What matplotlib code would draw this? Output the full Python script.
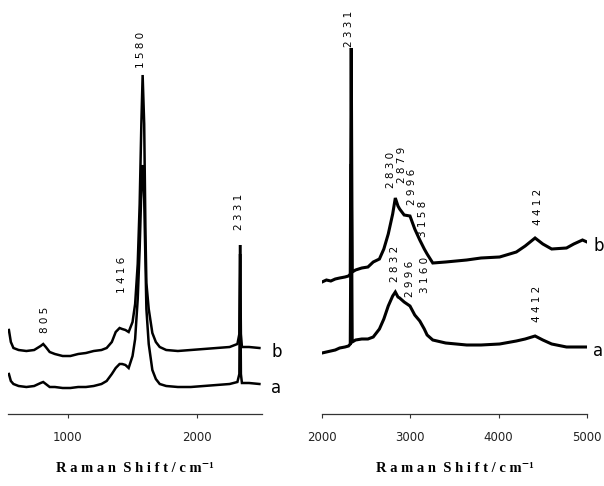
import matplotlib
matplotlib.use('Agg')
import numpy as np
import matplotlib.pyplot as plt

# ── Left panel: 500-2500 cm-1 (intensity in arbitrary units) ────────────────
left_x = [545, 560, 580, 620, 680, 740, 790, 810, 830, 860, 900, 960, 1020,
          1080, 1140, 1200, 1260, 1300, 1340, 1370, 1400, 1420, 1445, 1470,
          1500, 1520, 1540, 1555, 1568, 1578, 1590, 1600, 1607, 1625, 1653,
          1680, 1710, 1760, 1850, 1950, 2050, 2150, 2250, 2310, 2325, 2331,
          2337, 2345, 2400, 2480]
left_b = [84, 72, 66, 64, 63, 64, 68, 70, 67, 62, 60, 58, 58,
          60, 61, 63, 64, 66, 72, 82, 86, 85, 84, 82,
          92, 110, 150, 210, 290, 339, 290, 180, 131, 105, 81,
          72, 67, 64, 63, 64, 65, 66, 67, 70, 80, 169,
          80, 67, 67, 66]
left_a = [40, 33, 30, 28, 27, 28, 31, 32, 30, 27, 27, 26, 26,
          27, 27, 28, 30, 33, 40, 46, 50, 50, 49, 46,
          58, 75, 115, 165, 225, 249, 215, 150, 105, 70, 44,
          35, 30, 28, 27, 27, 28, 29, 30, 32, 40, 160,
          40, 31, 31, 30]

# ── Right panel: 2000-5000 cm-1 ─────────────────────────────────────────────
right_x = [2000, 2050, 2100, 2150, 2200, 2260, 2300, 2320, 2331, 2342, 2380,
           2450, 2520, 2580, 2650, 2700, 2750, 2800, 2830, 2860, 2879, 2930,
           2996, 3050, 3107, 3158, 3190, 3254, 3400, 3638, 3800, 4011, 4200,
           4300, 4412, 4500, 4600, 4768, 4850, 4949, 5000]
right_b = [132, 134, 133, 135, 136, 137, 138, 140, 366, 142, 144,
           146, 147, 152, 155, 165, 180, 200, 216, 208, 205, 199,
           198, 185, 174, 165, 160, 151, 152, 154, 156, 157, 162,
           168, 176, 170, 165, 166, 170, 174, 172]
right_a = [61, 62, 63, 64, 66, 67, 68, 70, 250, 72, 74,
           75, 75, 77, 85, 95, 108, 118, 122, 117, 116, 112,
           108, 99, 93, 85, 79, 74, 71, 69, 69, 70, 73,
           75, 78, 74, 70, 67, 67, 67, 67]

left_peaks = [('805', 823, 81), ('1416', 1422, 121), ('1580', 1569, 346),
              ('2331', 2323, 184)]
right_peaks = [('2331', 2305, 367), ('2830', 2780, 226), ('2879', 2904, 231),
               ('2996', 3017, 209), ('3158', 3141, 177), ('4412', 4441, 189),
               ('2832', 2825, 132), ('2996', 2994, 117), ('3160', 3164, 121),
               ('4412', 4429, 92)]

W, H = 604, 486
fig = plt.figure(figsize=(W / 100, H / 100), dpi=100)
ax1 = fig.add_axes([8 / W, 72 / H, 254 / W, 414 / H])
ax2 = fig.add_axes([322 / W, 72 / H, 265 / W, 414 / H])

label_font = ['Liberation Serif', 'DejaVu Serif']


def style(ax, xlim, ticks):
    ax.set_xlim(*xlim)
    ax.set_ylim(0, 414)
    for s in ['left', 'right', 'top']:
        ax.spines[s].set_visible(False)
    ax.spines['bottom'].set_linewidth(0.9)
    ax.spines['bottom'].set_color('#333333')
    ax.set_yticks([])
    ax.set_xticks(ticks)
    ax.set_xticklabels([str(t) for t in ticks], family='DejaVu Sans',
                       fontsize=8.5, color='#222222')
    ax.tick_params(axis='x', length=3, width=0.8, pad=9, color='#333333')
    ax.set_xlabel('R a m a n  S h i f t / c m\u207b\u00b9', family=label_font,
                  fontweight='bold', fontsize=10.5, labelpad=13)


def spectra(ax, x, a, b, peaks, lab_x, lw):
    ax.plot(x, b, color='black', lw=lw, solid_joinstyle='miter')
    ax.plot(x, a, color='black', lw=lw, solid_joinstyle='miter')
    for txt, px, py in peaks:
        ax.text(px, py, ' '.join(txt), rotation=90, ha='center', va='bottom',
                fontsize=7.5, family='DejaVu Sans')
    ax.text(lab_x, b[-1] - 4, 'b', fontsize=12, ha='left', va='center',
            family='DejaVu Sans', clip_on=False)
    ax.text(lab_x, a[-1] - 4, 'a', fontsize=12, ha='left', va='center',
            family='DejaVu Sans', clip_on=False)


style(ax1, (538, 2500), [1000, 2000])
spectra(ax1, left_x, left_a, left_b, left_peaks, 2570, 1.8)

style(ax2, (2000, 5000), [2000, 3000, 4000, 5000])
spectra(ax2, right_x, right_a, right_b, right_peaks, 5070, 2.2)

fig.savefig('out.png', dpi=100)
